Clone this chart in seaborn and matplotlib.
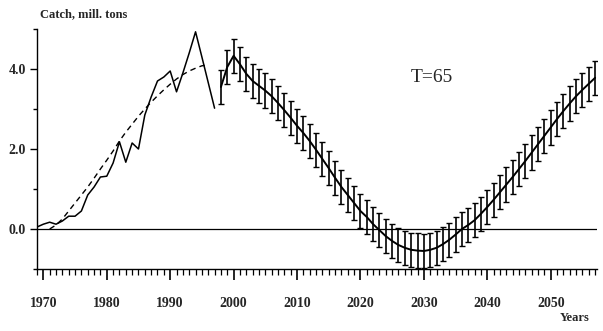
import numpy as np
import pandas as pd
import matplotlib
matplotlib.use("Agg")
import matplotlib.pyplot as plt
from matplotlib.ticker import MultipleLocator, FixedLocator, FuncFormatter
import seaborn as sns

# Observed catch
obs_years = list(range(1969, 1998))
obs_catch = [0.05, 0.12, 0.17, 0.12, 0.20, 0.32, 0.32, 0.45, 0.85, 1.05,
             1.30, 1.32, 1.65, 2.18, 1.67, 2.15, 2.00, 2.85, 3.30, 3.70,
             3.80, 3.95, 3.43, 3.90, 4.40, 4.93, 4.30, 3.66, 3.02]

# Trend (dashed)
trend_years = list(range(1971, 1997))
trend_catch = [0.00, 0.10, 0.25, 0.45, 0.65, 0.85, 1.05, 1.27, 1.50, 1.72,
               1.95, 2.20, 2.42, 2.62, 2.82, 3.00, 3.17, 3.33, 3.48, 3.62,
               3.75, 3.86, 3.95, 4.02, 4.08, 4.10]

# Forecast with error bars
fc_years = list(range(1998, 2058))
fc_catch = [3.55, 4.05, 4.33, 4.12, 3.88, 3.70, 3.58, 3.46, 3.32, 3.15,
            2.97, 2.78, 2.58, 2.40, 2.20, 1.98, 1.75, 1.52, 1.28, 1.05,
            0.85, 0.65, 0.45, 0.30, 0.12, -0.03, -0.18, -0.30, -0.40, -0.47,
            -0.52, -0.54, -0.55, -0.52, -0.47, -0.38, -0.27, -0.14, 0.00, 0.10,
            0.22, 0.38, 0.55, 0.73, 0.92, 1.11, 1.30, 1.50, 1.70, 1.91,
            2.12, 2.33, 2.54, 2.75, 2.95, 3.14, 3.32, 3.48, 3.63, 3.78]
fc_err = [0.43] * len(fc_years)

y_major = [0.0, 2.0, 4.0]
y_minor = [-1.0, 1.0, 3.0, 5.0]
x_major = [1970, 1980, 1990, 2000, 2010, 2020, 2030, 2040, 2050]

sns.set_theme(style="white")
plt.rcParams['font.family'] = ['Liberation Serif', 'DejaVu Serif']

fig = plt.figure(figsize=(6.03, 3.31), dpi=100)
ax = fig.add_axes([37/603, 1 - 269/331, 560/603, 240/331])

df_obs = pd.DataFrame({"year": obs_years, "catch": obs_catch})
df_tr = pd.DataFrame({"year": trend_years, "catch": trend_catch})
df_fc = pd.DataFrame({"year": fc_years, "catch": fc_catch, "err": fc_err})

ax.axhline(0, color="black", lw=0.9, zorder=1)
sns.lineplot(data=df_obs, x="year", y="catch", ax=ax, color="black", lw=1.1)
sns.lineplot(data=df_tr, x="year", y="catch", ax=ax, color="black", lw=1.0,
             linestyle=(0, (4, 3)))
sns.lineplot(data=df_fc, x="year", y="catch", ax=ax, color="black", lw=1.4)
ax.errorbar(df_fc["year"], df_fc["catch"], yerr=df_fc["err"], fmt="none",
            ecolor="black", elinewidth=1.2, capsize=2, capthick=1.0)

ax.set_xlim(1969, 2057.3)
ax.set_ylim(-1.0, 5.0)

for s in ["top", "right"]:
    ax.spines[s].set_visible(False)
for s in ["left", "bottom"]:
    ax.spines[s].set_color("black")
    ax.spines[s].set_linewidth(1.0)

ax.xaxis.set_major_locator(FixedLocator(x_major))
ax.xaxis.set_minor_locator(MultipleLocator(1))
ax.yaxis.set_major_locator(FixedLocator(y_major))
ax.yaxis.set_minor_locator(FixedLocator(y_minor))
ax.yaxis.set_major_formatter(FuncFormatter(lambda v, p: f"{v:.1f}"))

ax.tick_params(axis="x", which="major", direction="out", length=8, width=1.2,
               color="black", labelsize=10, pad=12, bottom=True)
ax.tick_params(axis="x", which="minor", direction="out", length=4, width=0.9,
               color="black", bottom=True)
ax.tick_params(axis="y", which="major", direction="out", length=5, width=1.0,
               color="black", labelsize=10, pad=3, left=True)
ax.tick_params(axis="y", which="minor", direction="out", length=3, width=1.0,
               color="black", left=True)
for lab in ax.get_xticklabels() + ax.get_yticklabels():
    lab.set_fontweight("bold")

ax.set_xlabel("")
ax.set_ylabel("")
ax.grid(False)

fig.text(40/603, 1 - 14/331, "Catch, mill. tons", fontsize=9, fontweight="bold",
         ha="left", va="center")
fig.text(590/603, 1 - 318/331, "Years", fontsize=9, fontweight="bold",
         ha="right", va="center")
ax.text(2031.3, 3.8, "T=65", fontsize=14, ha="center", va="center")

fig.savefig("out.png", dpi=100)
